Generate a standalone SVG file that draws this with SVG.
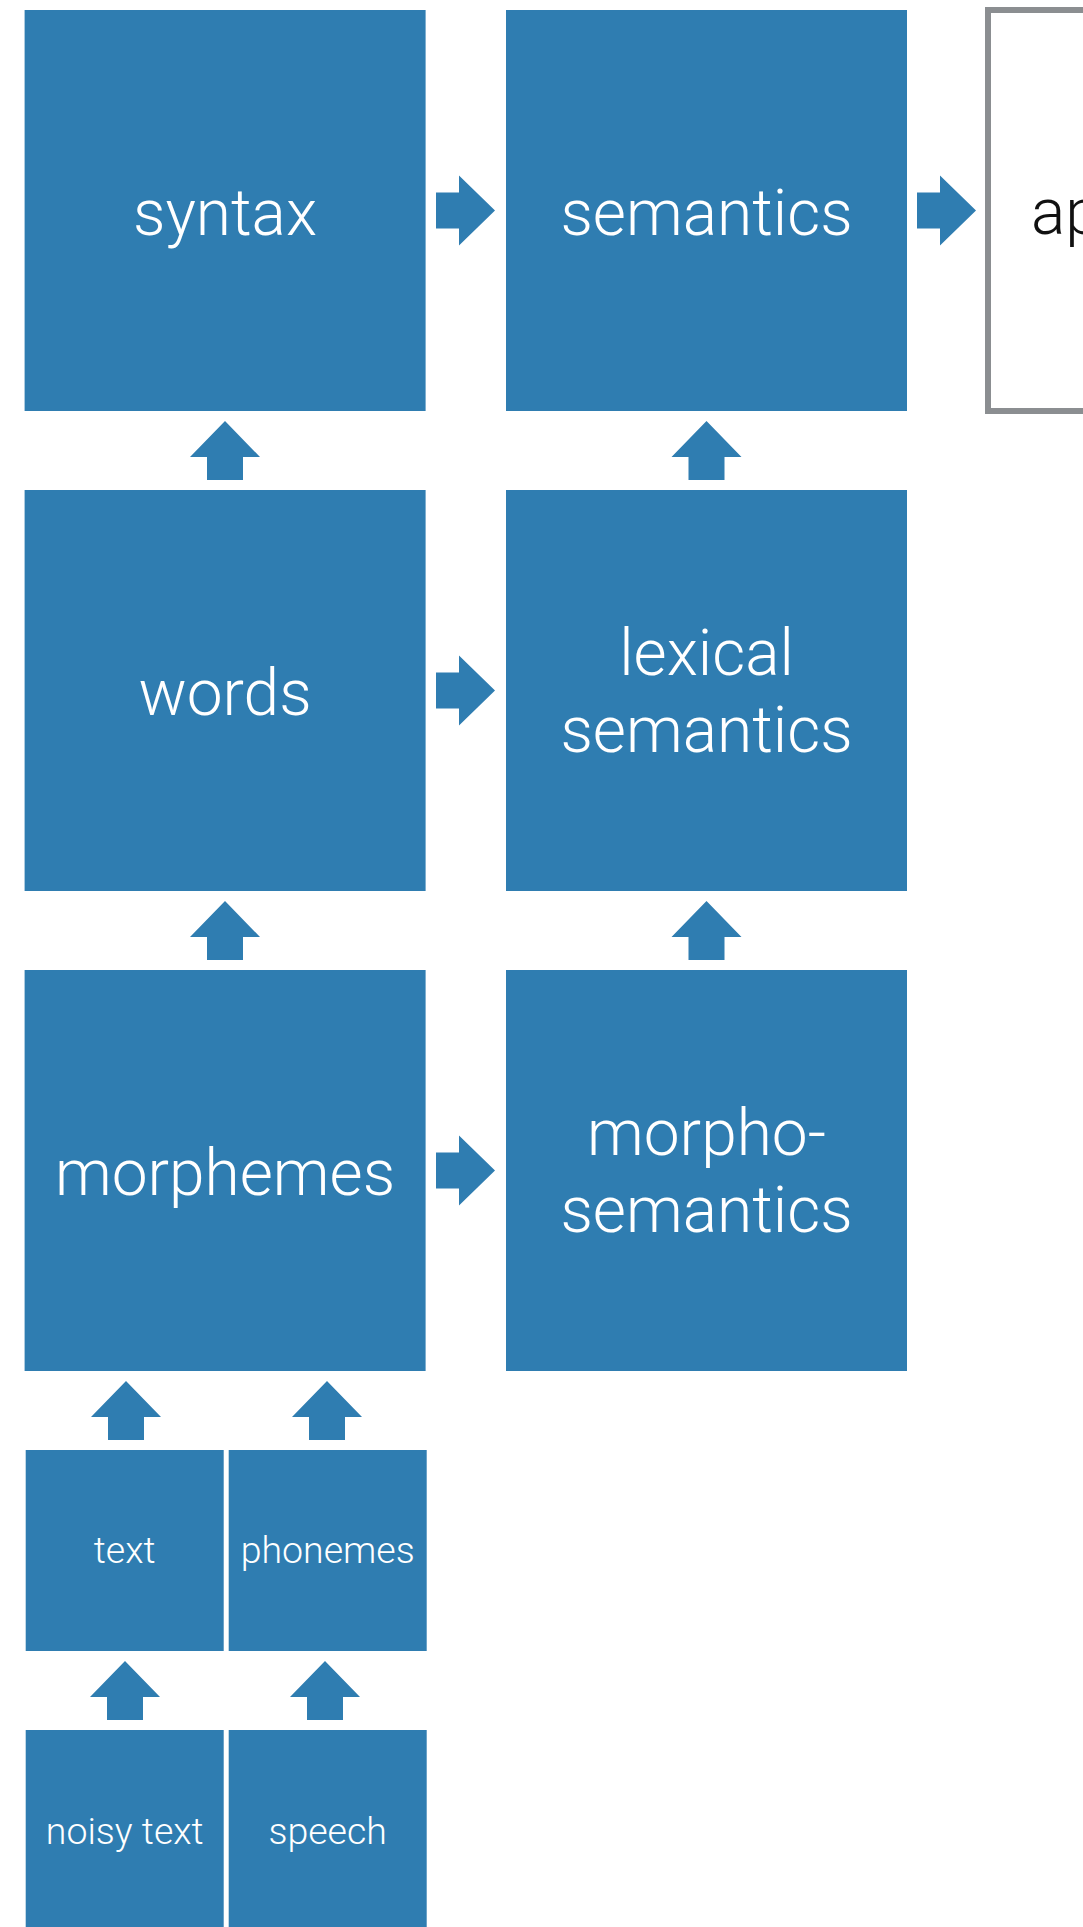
<svg xmlns="http://www.w3.org/2000/svg" xmlns:xlink="http://www.w3.org/1999/xlink" width="1083" height="1927" viewBox="0 0 1083 1927">
  <style>
    .box { fill: #2f7db1; }
    .outline { fill: #ffffff; stroke: #8b8e91; stroke-width: 6; }
    .lbl { font-family: Roboto, "Liberation Sans", "DejaVu Sans", sans-serif; font-weight: 300; fill: #ffffff; text-anchor: middle; }
    .big { font-size: 64px; }
    .small { font-size: 37.5px; }
    .dark { fill: #111111; text-anchor: start; }
    .arrow { fill: #2f7db1; }
  </style>
  <defs>
    <path id="up" d="M0,0 L35,36 L18,36 L18,59 L-18,59 L-18,36 L-35,36 Z"/>
  </defs>
  <rect width="1083" height="1927" fill="#ffffff"/>

  <g id="connectors" class="arrow">
    <use xlink:href="#up" href="#up" transform="translate(495,210.5) rotate(90)"/>
    <use xlink:href="#up" href="#up" transform="translate(976,210.5) rotate(90)"/>
    <use xlink:href="#up" href="#up" transform="translate(495,690.5) rotate(90)"/>
    <use xlink:href="#up" href="#up" transform="translate(495,1170.5) rotate(90)"/>
    <use xlink:href="#up" href="#up" transform="translate(225,421)"/>
    <use xlink:href="#up" href="#up" transform="translate(706.5,421)"/>
    <use xlink:href="#up" href="#up" transform="translate(225,901)"/>
    <use xlink:href="#up" href="#up" transform="translate(706.5,901)"/>
    <use xlink:href="#up" href="#up" transform="translate(126,1381)"/>
    <use xlink:href="#up" href="#up" transform="translate(327,1381)"/>
    <use xlink:href="#up" href="#up" transform="translate(125,1661)"/>
    <use xlink:href="#up" href="#up" transform="translate(325,1661)"/>
  </g>

  <g id="syntax">
    <rect class="box" x="24.6" y="10" width="401" height="401"/>
    <text class="lbl big" x="225" y="235">syntax</text>
  </g>
  <g id="semantics">
    <rect class="box" x="506" y="10" width="401" height="401"/>
    <text class="lbl big" x="706.5" y="235">semantics</text>
  </g>
  <g id="applications">
    <rect class="outline" x="988" y="10" width="401" height="401"/>
    <text class="lbl big dark" x="1031" y="234">ap</text>
  </g>
  <g id="words">
    <rect class="box" x="24.6" y="490" width="401" height="401"/>
    <text class="lbl big" x="225" y="715">words</text>
  </g>
  <g id="lexical-semantics">
    <rect class="box" x="506" y="490" width="401" height="401"/>
    <text class="lbl big" x="706.5" y="675">lexical</text>
    <text class="lbl big" x="706.5" y="752">semantics</text>
  </g>
  <g id="morphemes">
    <rect class="box" x="24.6" y="970" width="401" height="401"/>
    <text class="lbl big" x="225" y="1195">morphemes</text>
  </g>
  <g id="morpho-semantics">
    <rect class="box" x="506" y="970" width="401" height="401"/>
    <text class="lbl big" x="706.5" y="1155">morpho-</text>
    <text class="lbl big" x="706.5" y="1232">semantics</text>
  </g>
  <g id="text">
    <rect class="box" x="25.7" y="1450" width="198" height="201"/>
    <text class="lbl small" x="124.7" y="1563">text</text>
  </g>
  <g id="phonemes">
    <rect class="box" x="228.7" y="1450" width="198" height="201"/>
    <text class="lbl small" x="327.7" y="1563">phonemes</text>
  </g>
  <g id="noisy-text">
    <rect class="box" x="25.7" y="1730" width="198" height="201"/>
    <text class="lbl small" x="124.7" y="1844">noisy text</text>
  </g>
  <g id="speech">
    <rect class="box" x="228.7" y="1730" width="198" height="201"/>
    <text class="lbl small" x="327.7" y="1844">speech</text>
  </g>
</svg>
